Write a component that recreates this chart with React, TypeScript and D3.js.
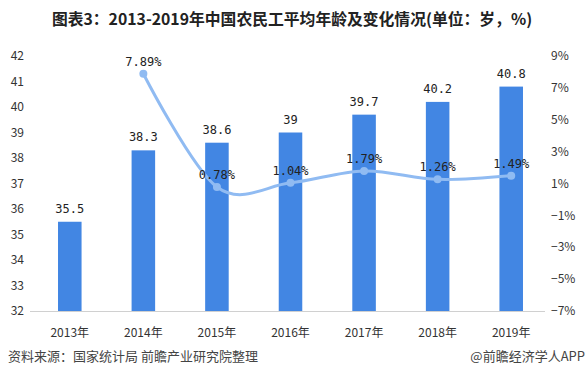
import React from "react";
import * as d3 from "d3";

const years = ["2013年", "2014年", "2015年", "2016年", "2017年", "2018年", "2019年"];
const ages = [35.5, 38.3, 38.6, 39, 39.7, 40.2, 40.8];
const changes: (number | null)[] = [null, 7.89, 0.78, 1.04, 1.79, 1.26, 1.49];
const leftTicks = [32, 33, 34, 35, 36, 37, 38, 39, 40, 41, 42];
const rightTicks = [-7, -5, -3, -1, 1, 3, 5, 7, 9];

const W = 585, H = 379;
const plotLeft = 33, plotRight = 548, plotTop = 56, plotBottom = 311;

export default function App() {
  const x = d3.scaleBand<string>().domain(years).range([plotLeft, plotRight]).paddingInner(0.68).paddingOuter(0.34);
  const yL = d3.scaleLinear().domain([32, 42]).range([plotBottom, plotTop]);
  const yR = d3.scaleLinear().domain([-7, 9]).range([plotBottom, plotTop]);
  const cx = (y: string) => (x(y) as number) + x.bandwidth() / 2;

  const pts = years.map((y, i) => ({ y, v: changes[i] })).filter(d => d.v !== null) as { y: string; v: number }[];
  const line = d3.line<{ y: string; v: number }>().x(d => cx(d.y)).y(d => yR(d.v)).curve(d3.curveCardinal.tension(0));

  const cn = "'Noto Sans CJK SC', 'Noto Sans', sans-serif";
  const mono = "'DejaVu Sans Mono', monospace";

  return (
    <svg width={W} height={H} style={{ position: "absolute", left: 0, top: 0, background: "#fff" }}>
      <text x={292} y={25} textAnchor="middle" fontFamily={cn} fontWeight="bold" fontSize={15.8} fill="#222">
        图表3：2013-2019年中国农民工平均年龄及变化情况(单位：岁，%)
      </text>
      {leftTicks.map(t => (
        <text key={"l" + t} x={24} y={yL(t)} dy="0.35em" textAnchor="end" fontFamily={cn} fontSize={12} fill="#333">{t}</text>
      ))}
      {rightTicks.map(t => (
        <text key={"r" + t} x={551} y={yR(t)} dy="0.35em" textAnchor="start" fontFamily={cn} fontSize={12} fill="#333">{(t < 0 ? "−" + Math.abs(t) : t) + "%"}</text>
      ))}
      <line x1={30} x2={545} y1={plotBottom + 0.5} y2={plotBottom + 0.5} stroke="#d0d0d0" strokeWidth={1} />
      {years.map((y, i) => (
        <g key={y}>
          <rect x={x(y)} y={yL(ages[i])} width={x.bandwidth()} height={plotBottom - yL(ages[i])} fill="#4286e3" />
          <text x={cx(y)} y={yL(ages[i]) - 9} textAnchor="middle" fontFamily={mono} fontSize={12} fill="#222">{ages[i]}</text>
          <text x={cx(y)} y={333} dy="0.35em" textAnchor="middle" fontFamily={cn} fontSize={12} fill="#333">{y}</text>
        </g>
      ))}
      <path d={line(pts) || ""} fill="none" stroke="#90bbf2" strokeWidth={3} />
      {pts.map(d => (
        <g key={"p" + d.y}>
          <circle cx={cx(d.y)} cy={yR(d.v)} r={4} fill="#90bbf2" />
          <text x={cx(d.y)} y={yR(d.v) - 8} textAnchor="middle" fontFamily={mono} fontSize={12} fill="#222">{d.v.toFixed(2) + "%"}</text>
        </g>
      ))}
      <text x={8} y={361} fontFamily={cn} fontSize={13} fill="#444">资料来源：国家统计局 前瞻产业研究院整理</text>
      <text x={585} y={361} textAnchor="end" fontFamily={cn} fontSize={13} fill="#444">@前瞻经济学人APP</text>
    </svg>
  );
}
